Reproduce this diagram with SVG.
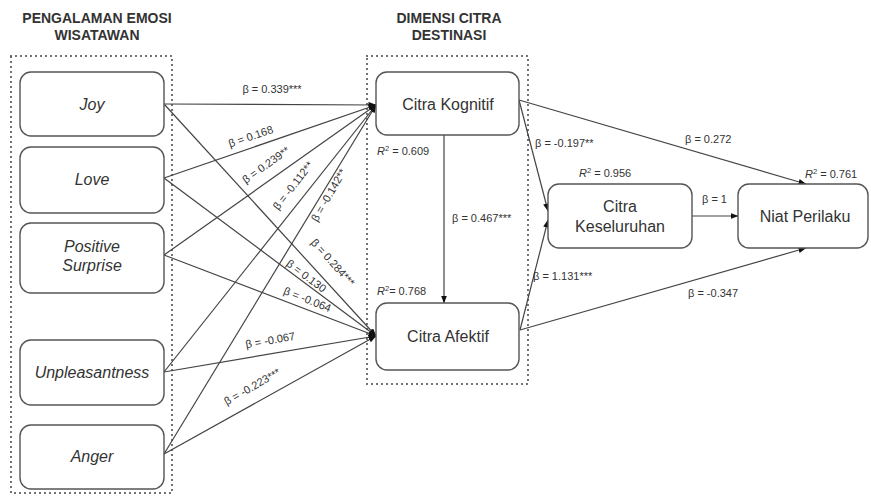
<svg xmlns="http://www.w3.org/2000/svg" width="871" height="501" viewBox="0 0 871 501">
<style>
text{font-family:"Liberation Sans",Arial,sans-serif;fill:#333}
.h{font-size:14px;font-weight:bold}
.n{font-size:16px}
.i{font-style:italic}
.l{font-size:11px}
.node{fill:#fff;stroke:#555;stroke-width:1.4}
.dot{fill:none;stroke:#444;stroke-width:2;stroke-dasharray:0 5;stroke-linecap:round}
.c{fill:none;stroke:#444;stroke-width:1.2}
</style>
<defs>
<marker id="a" markerWidth="8" markerHeight="6" refX="7.5" refY="3" orient="auto" markerUnits="userSpaceOnUse"><path d="M0,0 L8,3 L0,6 z" fill="#111"/></marker>
</defs>
<rect width="871" height="501" fill="#fff"/>
<g id="headings">
<text class="h" x="97" y="23" text-anchor="middle">PENGALAMAN EMOSI</text>
<text class="h" x="97" y="40" text-anchor="middle">WISATAWAN</text>
<text class="h" x="449" y="23" text-anchor="middle">DIMENSI CITRA</text>
<text class="h" x="449" y="40" text-anchor="middle">DESTINASI</text>
</g>
<rect class="dot" x="11" y="56" width="161" height="437"/>
<rect class="dot" x="367" y="56" width="161" height="328"/>
<g id="connectors">
<line class="c" x1="164" y1="104" x2="376" y2="105" marker-end="url(#a)"/>
<line class="c" x1="164" y1="178" x2="376" y2="105" marker-end="url(#a)"/>
<line class="c" x1="164" y1="255" x2="376" y2="105" marker-end="url(#a)"/>
<line class="c" x1="164" y1="372" x2="376" y2="105" marker-end="url(#a)"/>
<line class="c" x1="164" y1="454" x2="376" y2="105" marker-end="url(#a)"/>
<line class="c" x1="164" y1="104" x2="376" y2="336" marker-end="url(#a)"/>
<line class="c" x1="164" y1="178" x2="376" y2="336" marker-end="url(#a)"/>
<line class="c" x1="164" y1="255" x2="376" y2="336" marker-end="url(#a)"/>
<line class="c" x1="164" y1="372" x2="376" y2="336" marker-end="url(#a)"/>
<line class="c" x1="164" y1="454" x2="376" y2="336" marker-end="url(#a)"/>
<line class="c" x1="444" y1="135" x2="444" y2="303" marker-end="url(#a)"/>
<line class="c" x1="519" y1="100" x2="548" y2="211" marker-end="url(#a)"/>
<line class="c" x1="520" y1="330" x2="548" y2="220" marker-end="url(#a)"/>
<line class="c" x1="519" y1="100" x2="806" y2="184" marker-end="url(#a)"/>
<line class="c" x1="520" y1="330" x2="806" y2="248" marker-end="url(#a)"/>
<line class="c" x1="692" y1="216" x2="738" y2="216" marker-end="url(#a)"/>
</g>
<g id="joy"><rect class="node" x="20" y="72" width="144" height="64" rx="11"/><text class="n i" x="92" y="110" text-anchor="middle">Joy</text></g>
<g id="love"><rect class="node" x="20" y="147" width="144" height="66" rx="11"/><text class="n i" x="92" y="185" text-anchor="middle">Love</text></g>
<g id="positive-surprise"><rect class="node" x="20" y="223" width="144" height="70" rx="11"/><text class="n i" x="92" y="252" text-anchor="middle">Positive</text><text class="n i" x="92" y="271" text-anchor="middle">Surprise</text></g>
<g id="unpleasantness"><rect class="node" x="20" y="340" width="144" height="65" rx="11"/><text class="n i" x="92" y="378" text-anchor="middle">Unpleasantness</text></g>
<g id="anger"><rect class="node" x="20" y="425" width="144" height="64" rx="11"/><text class="n i" x="92" y="462" text-anchor="middle">Anger</text></g>
<g id="citra-kognitif"><rect class="node" x="376" y="72" width="143" height="63" rx="11"/><text class="n" x="448" y="110" text-anchor="middle">Citra Kognitif</text></g>
<g id="citra-afektif"><rect class="node" x="376" y="303" width="143" height="67" rx="11"/><text class="n" x="448" y="342" text-anchor="middle">Citra Afektif</text></g>
<g id="citra-keseluruhan"><rect class="node" x="548" y="184" width="144" height="64" rx="11"/><text class="n" x="620" y="212" text-anchor="middle">Citra</text><text class="n" x="620" y="232" text-anchor="middle">Keseluruhan</text></g>
<g id="niat-perilaku"><rect class="node" x="738" y="184" width="130" height="64" rx="11"/><text class="n" x="805" y="222" text-anchor="middle">Niat Perilaku</text></g>
<g id="labels">
<text class="l" x="272" y="93" text-anchor="middle">β = 0.339***</text>
<text class="l" transform="translate(252,140) rotate(-19)" text-anchor="middle">β = 0.168</text>
<text class="l" transform="translate(268,168) rotate(-35.5)" text-anchor="middle">β = 0.239**</text>
<text class="l" transform="translate(296,188) rotate(-52)" text-anchor="middle">β = -0.112**</text>
<text class="l" transform="translate(332,197) rotate(-60)" text-anchor="middle">β = -0.142**</text>
<text class="l" transform="translate(330,265) rotate(48)" text-anchor="middle">β = 0.284***</text>
<text class="l" transform="translate(304,279) rotate(37)" text-anchor="middle">β = 0.130</text>
<text class="l" transform="translate(306,303) rotate(21.4)" text-anchor="middle">β = -0.064</text>
<text class="l" transform="translate(271,344) rotate(-10)" text-anchor="middle">β = -0.067</text>
<text class="l" transform="translate(254,390) rotate(-29.7)" text-anchor="middle">β = -0.223***</text>
<text class="l" x="377" y="155"><tspan font-style="italic">R</tspan><tspan font-size="7.5" dy="-4">2</tspan><tspan dy="4"> = 0.609</tspan></text>
<text class="l" x="452" y="222">β = 0.467***</text>
<text class="l" x="377" y="295"><tspan font-style="italic">R</tspan><tspan font-size="7.5" dy="-4">2</tspan><tspan dy="4">= 0.768</tspan></text>
<text class="l" x="535" y="147">β = -0.197**</text>
<text class="l" x="579" y="177"><tspan font-style="italic">R</tspan><tspan font-size="7.5" dy="-4">2</tspan><tspan dy="4"> = 0.956</tspan></text>
<text class="l" x="685" y="143">β = 0.272</text>
<text class="l" x="805" y="178"><tspan font-style="italic">R</tspan><tspan font-size="7.5" dy="-4">2</tspan><tspan dy="4"> = 0.761</tspan></text>
<text class="l" x="702" y="203">β = 1</text>
<text class="l" x="533" y="280">β = 1.131***</text>
<text class="l" x="688" y="297">β = -0.347</text>
</g>
</svg>
